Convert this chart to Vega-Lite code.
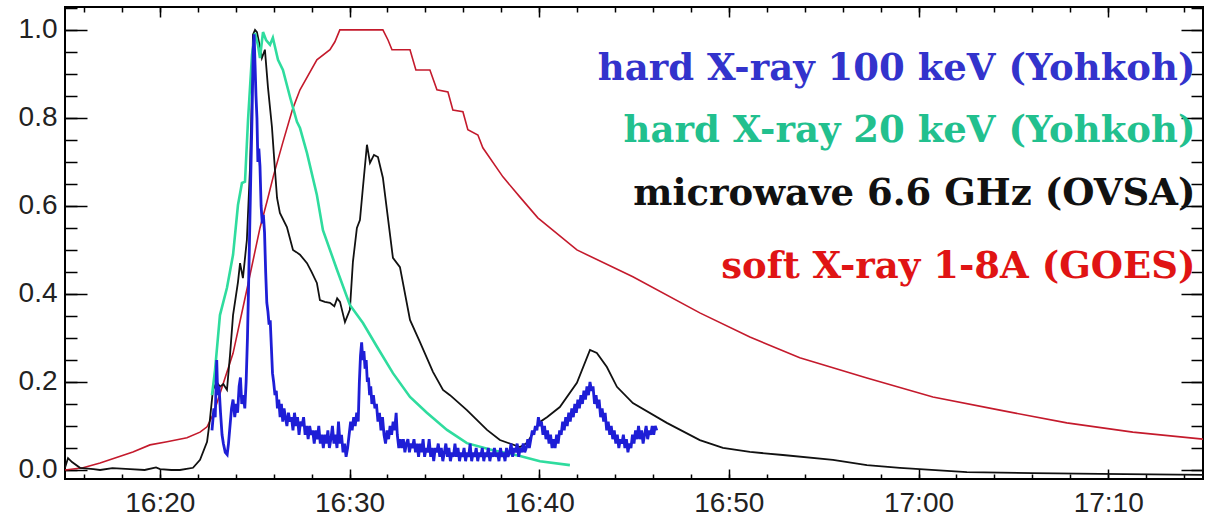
{
  "$schema": "https://vega.github.io/schema/vega-lite/v6.json",
  "width": 1138,
  "height": 472,
  "autosize": {"type": "none"},
  "padding": {"left": 65, "top": 7, "right": 6, "bottom": 41},
  "background": "white",
  "config": {
    "view": {"stroke": "black", "strokeWidth": 2},
    "axis": {"grid": false, "domain": false, "title": null, "tickColor": "black", "tickWidth": 1.5, "labelFont": "Liberation Sans", "labelFontSize": 28, "labelColor": "#222222"}
  },
  "datasets": {
    "goes": [
      {"t":15.0,"v":0.0},{"t":15.95,"v":0.005},{"t":16.85,"v":0.016},{"t":18.58,"v":0.041},{"t":19.48,"v":0.057},{"t":20.38,"v":0.064},{"t":21.43,"v":0.073},{"t":22.12,"v":0.086},{"t":22.49,"v":0.098},{"t":22.8,"v":0.125},{"t":23.01,"v":0.152},{"t":23.86,"v":0.265},{"t":24.59,"v":0.41},{"t":25.28,"v":0.55},{"t":25.65,"v":0.61},{"t":26.0,"v":0.67},{"t":26.49,"v":0.745},{"t":27.0,"v":0.82},{"t":27.39,"v":0.864},{"t":28.28,"v":0.932},{"t":28.97,"v":0.955},{"t":29.23,"v":0.973},{"t":29.49,"v":1.0},{"t":31.76,"v":1.0},{"t":32.03,"v":0.977},{"t":32.24,"v":0.955},{"t":33.19,"v":0.955},{"t":33.5,"v":0.909},{"t":34.24,"v":0.909},{"t":34.61,"v":0.864},{"t":35.19,"v":0.859},{"t":35.45,"v":0.818},{"t":35.98,"v":0.814},{"t":36.24,"v":0.773},{"t":36.77,"v":0.761},{"t":37.03,"v":0.732},{"t":38.09,"v":0.666},{"t":38.99,"v":0.62},{"t":39.93,"v":0.573},{"t":41.99,"v":0.5},{"t":44.94,"v":0.439},{"t":48.47,"v":0.357},{"t":51.11,"v":0.302},{"t":53.74,"v":0.255},{"t":57.28,"v":0.209},{"t":60.76,"v":0.166},{"t":64.29,"v":0.136},{"t":67.82,"v":0.107},{"t":71.3,"v":0.086},{"t":75.0,"v":0.07}
    ],
    "ovsa": [
      {"t":15.0,"v":0.005},{"t":15.16,"v":0.027},{"t":15.37,"v":0.018},{"t":15.79,"v":0.005},{"t":16.5,"v":0.002},{"t":16.85,"v":0.0},{"t":17.5,"v":0.004},{"t":18.43,"v":0.002},{"t":19.2,"v":0.0},{"t":19.8,"v":0.006},{"t":20.01,"v":0.002},{"t":20.6,"v":0.0},{"t":21.06,"v":0.0},{"t":21.75,"v":0.005},{"t":22.12,"v":0.023},{"t":22.49,"v":0.064},{"t":22.64,"v":0.114},{"t":22.8,"v":0.182},{"t":23.0,"v":0.2},{"t":23.17,"v":0.189},{"t":23.35,"v":0.195},{"t":23.54,"v":0.182},{"t":23.7,"v":0.261},{"t":23.86,"v":0.352},{"t":24.12,"v":0.427},{"t":24.23,"v":0.47},{"t":24.38,"v":0.436},{"t":24.59,"v":0.523},{"t":24.75,"v":0.682},{"t":24.86,"v":0.864},{"t":24.91,"v":0.989},{"t":25.02,"v":1.0},{"t":25.12,"v":0.995},{"t":25.28,"v":0.961},{"t":25.38,"v":0.936},{"t":25.54,"v":0.955},{"t":25.7,"v":0.87},{"t":25.91,"v":0.78},{"t":26.07,"v":0.682},{"t":26.18,"v":0.618},{"t":26.33,"v":0.584},{"t":26.7,"v":0.552},{"t":27.02,"v":0.5},{"t":27.2,"v":0.495},{"t":27.39,"v":0.489},{"t":27.76,"v":0.47},{"t":28.0,"v":0.45},{"t":28.28,"v":0.425},{"t":28.44,"v":0.386},{"t":28.7,"v":0.382},{"t":28.97,"v":0.38},{"t":29.2,"v":0.372},{"t":29.35,"v":0.39},{"t":29.5,"v":0.382},{"t":29.76,"v":0.336},{"t":30.02,"v":0.364},{"t":30.18,"v":0.473},{"t":30.39,"v":0.55},{"t":30.55,"v":0.568},{"t":30.71,"v":0.643},{"t":30.92,"v":0.739},{"t":31.08,"v":0.698},{"t":31.29,"v":0.716},{"t":31.5,"v":0.711},{"t":31.76,"v":0.664},{"t":32.29,"v":0.482},{"t":32.66,"v":0.461},{"t":33.19,"v":0.341},{"t":33.71,"v":0.291},{"t":34.4,"v":0.223},{"t":34.93,"v":0.182},{"t":35.3,"v":0.17},{"t":36.19,"v":0.136},{"t":37.25,"v":0.091},{"t":37.93,"v":0.068},{"t":38.99,"v":0.052},{"t":39.35,"v":0.061},{"t":40.04,"v":0.109},{"t":40.41,"v":0.12},{"t":41.09,"v":0.143},{"t":41.99,"v":0.198},{"t":42.68,"v":0.273},{"t":43.04,"v":0.266},{"t":43.57,"v":0.234},{"t":44.1,"v":0.189},{"t":44.94,"v":0.152},{"t":46.73,"v":0.107},{"t":48.47,"v":0.068},{"t":49.69,"v":0.05},{"t":51.11,"v":0.041},{"t":52.85,"v":0.034},{"t":55.49,"v":0.023},{"t":57.28,"v":0.011},{"t":59.02,"v":0.005},{"t":62.55,"v":-0.005},{"t":66.03,"v":-0.007},{"t":69.56,"v":-0.009},{"t":75.0,"v":-0.011}
    ],
    "hxr20": [
      {"t":22.75,"v":0.17},{"t":22.91,"v":0.227},{"t":23.17,"v":0.352},{"t":23.54,"v":0.414},{"t":23.86,"v":0.489},{"t":24.12,"v":0.602},{"t":24.33,"v":0.652},{"t":24.49,"v":0.655},{"t":24.65,"v":0.795},{"t":24.86,"v":0.943},{"t":25.02,"v":0.993},{"t":25.17,"v":0.966},{"t":25.28,"v":0.936},{"t":25.44,"v":0.995},{"t":25.6,"v":0.977},{"t":25.81,"v":0.966},{"t":25.96,"v":0.982},{"t":26.23,"v":0.932},{"t":26.49,"v":0.909},{"t":26.86,"v":0.848},{"t":27.23,"v":0.791},{"t":27.39,"v":0.777},{"t":27.76,"v":0.72},{"t":28.28,"v":0.625},{"t":28.6,"v":0.545},{"t":29.34,"v":0.455},{"t":30.02,"v":0.375},{"t":30.71,"v":0.334},{"t":31.45,"v":0.28},{"t":32.29,"v":0.22},{"t":33.19,"v":0.166},{"t":34.08,"v":0.13},{"t":35.14,"v":0.091},{"t":36.19,"v":0.061},{"t":37.56,"v":0.045},{"t":38.99,"v":0.032},{"t":40.04,"v":0.02},{"t":41.62,"v":0.011}
    ],
    "hxr100": [
      {"t":22.75,"v":0.09},{"t":22.85,"v":0.14},{"t":22.92,"v":0.12},{"t":23.0,"v":0.25},{"t":23.05,"v":0.17},{"t":23.12,"v":0.19},{"t":23.2,"v":0.13},{"t":23.28,"v":0.08},{"t":23.35,"v":0.06},{"t":23.45,"v":0.04},{"t":23.55,"v":0.035},{"t":23.62,"v":0.06},{"t":23.7,"v":0.1},{"t":23.78,"v":0.14},{"t":23.86,"v":0.16},{"t":23.95,"v":0.12},{"t":24.03,"v":0.15},{"t":24.1,"v":0.13},{"t":24.18,"v":0.19},{"t":24.25,"v":0.21},{"t":24.32,"v":0.15},{"t":24.4,"v":0.17},{"t":24.48,"v":0.14},{"t":24.55,"v":0.2},{"t":24.62,"v":0.3},{"t":24.68,"v":0.42},{"t":24.74,"v":0.55},{"t":24.8,"v":0.68},{"t":24.86,"v":0.8},{"t":24.92,"v":0.95},{"t":24.97,"v":0.99},{"t":25.02,"v":0.92},{"t":25.07,"v":0.85},{"t":25.12,"v":0.8},{"t":25.17,"v":0.7},{"t":25.22,"v":0.73},{"t":25.28,"v":0.69},{"t":25.34,"v":0.6},{"t":25.4,"v":0.56},{"t":25.46,"v":0.58},{"t":25.52,"v":0.54},{"t":25.58,"v":0.45},{"t":25.64,"v":0.38},{"t":25.7,"v":0.36},{"t":25.76,"v":0.33},{"t":25.82,"v":0.34},{"t":25.88,"v":0.28},{"t":25.94,"v":0.22},{"t":26.0,"v":0.2},{"t":26.07,"v":0.17},{"t":26.14,"v":0.18},{"t":26.2,"v":0.14},{"t":26.27,"v":0.16},{"t":26.34,"v":0.12},{"t":26.41,"v":0.15},{"t":26.48,"v":0.11},{"t":26.55,"v":0.14},{"t":26.62,"v":0.12},{"t":26.7,"v":0.1},{"t":26.78,"v":0.13},{"t":26.86,"v":0.11},{"t":26.94,"v":0.12},{"t":27.02,"v":0.09},{"t":27.1,"v":0.13},{"t":27.18,"v":0.1},{"t":27.26,"v":0.12},{"t":27.34,"v":0.08},{"t":27.42,"v":0.11},{"t":27.5,"v":0.1},{"t":27.58,"v":0.12},{"t":27.66,"v":0.08},{"t":27.74,"v":0.1},{"t":27.82,"v":0.07},{"t":27.9,"v":0.1},{"t":27.98,"v":0.08},{"t":28.06,"v":0.09},{"t":28.14,"v":0.06},{"t":28.22,"v":0.09},{"t":28.3,"v":0.07},{"t":28.38,"v":0.1},{"t":28.46,"v":0.06},{"t":28.54,"v":0.08},{"t":28.62,"v":0.05},{"t":28.7,"v":0.08},{"t":28.78,"v":0.06},{"t":28.86,"v":0.09},{"t":28.94,"v":0.05},{"t":29.02,"v":0.07},{"t":29.1,"v":0.1},{"t":29.18,"v":0.06},{"t":29.26,"v":0.08},{"t":29.34,"v":0.05},{"t":29.42,"v":0.11},{"t":29.5,"v":0.06},{"t":29.58,"v":0.08},{"t":29.66,"v":0.04},{"t":29.74,"v":0.06},{"t":29.82,"v":0.03},{"t":29.9,"v":0.05},{"t":29.98,"v":0.08},{"t":30.06,"v":0.11},{"t":30.14,"v":0.09},{"t":30.22,"v":0.12},{"t":30.3,"v":0.1},{"t":30.38,"v":0.13},{"t":30.46,"v":0.11},{"t":30.52,"v":0.2},{"t":30.58,"v":0.26},{"t":30.64,"v":0.29},{"t":30.7,"v":0.25},{"t":30.76,"v":0.27},{"t":30.82,"v":0.23},{"t":30.88,"v":0.25},{"t":30.94,"v":0.2},{"t":31.0,"v":0.21},{"t":31.06,"v":0.17},{"t":31.12,"v":0.19},{"t":31.18,"v":0.15},{"t":31.26,"v":0.17},{"t":31.34,"v":0.14},{"t":31.42,"v":0.15},{"t":31.5,"v":0.11},{"t":31.58,"v":0.13},{"t":31.66,"v":0.09},{"t":31.74,"v":0.12},{"t":31.82,"v":0.08},{"t":31.9,"v":0.06},{"t":31.98,"v":0.09},{"t":32.06,"v":0.07},{"t":32.14,"v":0.1},{"t":32.22,"v":0.08},{"t":32.3,"v":0.11},{"t":32.38,"v":0.09},{"t":32.46,"v":0.13},{"t":32.52,"v":0.08},{"t":32.6,"v":0.05},{"t":32.68,"v":0.07},{"t":32.76,"v":0.05},{"t":32.84,"v":0.07},{"t":32.92,"v":0.04},{"t":33.0,"v":0.06},{"t":33.08,"v":0.07},{"t":33.16,"v":0.04},{"t":33.24,"v":0.06},{"t":33.32,"v":0.05},{"t":33.4,"v":0.07},{"t":33.48,"v":0.04},{"t":33.56,"v":0.06},{"t":33.64,"v":0.03},{"t":33.72,"v":0.06},{"t":33.8,"v":0.04},{"t":33.88,"v":0.07},{"t":33.96,"v":0.03},{"t":34.04,"v":0.05},{"t":34.12,"v":0.04},{"t":34.2,"v":0.07},{"t":34.28,"v":0.03},{"t":34.36,"v":0.05},{"t":34.44,"v":0.02},{"t":34.52,"v":0.05},{"t":34.6,"v":0.04},{"t":34.68,"v":0.06},{"t":34.76,"v":0.03},{"t":34.84,"v":0.05},{"t":34.92,"v":0.02},{"t":35.0,"v":0.04},{"t":35.08,"v":0.06},{"t":35.16,"v":0.03},{"t":35.24,"v":0.05},{"t":35.32,"v":0.02},{"t":35.4,"v":0.04},{"t":35.48,"v":0.03},{"t":35.56,"v":0.06},{"t":35.64,"v":0.03},{"t":35.72,"v":0.05},{"t":35.8,"v":0.02},{"t":35.88,"v":0.04},{"t":35.96,"v":0.03},{"t":36.04,"v":0.05},{"t":36.12,"v":0.02},{"t":36.2,"v":0.04},{"t":36.28,"v":0.03},{"t":36.36,"v":0.06},{"t":36.44,"v":0.02},{"t":36.52,"v":0.04},{"t":36.6,"v":0.03},{"t":36.68,"v":0.05},{"t":36.76,"v":0.02},{"t":36.84,"v":0.04},{"t":36.92,"v":0.03},{"t":37.0,"v":0.05},{"t":37.08,"v":0.02},{"t":37.16,"v":0.04},{"t":37.24,"v":0.03},{"t":37.32,"v":0.05},{"t":37.4,"v":0.02},{"t":37.48,"v":0.04},{"t":37.56,"v":0.03},{"t":37.64,"v":0.05},{"t":37.72,"v":0.03},{"t":37.8,"v":0.04},{"t":37.88,"v":0.02},{"t":37.96,"v":0.05},{"t":38.04,"v":0.03},{"t":38.12,"v":0.04},{"t":38.2,"v":0.02},{"t":38.28,"v":0.05},{"t":38.36,"v":0.03},{"t":38.44,"v":0.04},{"t":38.52,"v":0.06},{"t":38.6,"v":0.03},{"t":38.68,"v":0.05},{"t":38.76,"v":0.04},{"t":38.84,"v":0.06},{"t":38.92,"v":0.03},{"t":39.0,"v":0.05},{"t":39.08,"v":0.04},{"t":39.16,"v":0.06},{"t":39.24,"v":0.04},{"t":39.32,"v":0.05},{"t":39.4,"v":0.07},{"t":39.48,"v":0.05},{"t":39.56,"v":0.07},{"t":39.64,"v":0.09},{"t":39.72,"v":0.08},{"t":39.8,"v":0.1},{"t":39.88,"v":0.09},{"t":39.96,"v":0.12},{"t":40.04,"v":0.1},{"t":40.12,"v":0.11},{"t":40.2,"v":0.08},{"t":40.28,"v":0.1},{"t":40.36,"v":0.07},{"t":40.44,"v":0.09},{"t":40.52,"v":0.06},{"t":40.6,"v":0.08},{"t":40.68,"v":0.05},{"t":40.76,"v":0.07},{"t":40.84,"v":0.05},{"t":40.92,"v":0.08},{"t":41.0,"v":0.06},{"t":41.08,"v":0.09},{"t":41.16,"v":0.08},{"t":41.24,"v":0.11},{"t":41.32,"v":0.09},{"t":41.4,"v":0.12},{"t":41.48,"v":0.1},{"t":41.56,"v":0.13},{"t":41.64,"v":0.11},{"t":41.72,"v":0.14},{"t":41.8,"v":0.12},{"t":41.88,"v":0.15},{"t":41.96,"v":0.13},{"t":42.04,"v":0.16},{"t":42.12,"v":0.14},{"t":42.2,"v":0.17},{"t":42.28,"v":0.15},{"t":42.36,"v":0.18},{"t":42.44,"v":0.16},{"t":42.52,"v":0.19},{"t":42.6,"v":0.17},{"t":42.68,"v":0.2},{"t":42.76,"v":0.18},{"t":42.84,"v":0.19},{"t":42.92,"v":0.15},{"t":43.0,"v":0.17},{"t":43.08,"v":0.14},{"t":43.16,"v":0.16},{"t":43.24,"v":0.12},{"t":43.32,"v":0.14},{"t":43.4,"v":0.11},{"t":43.48,"v":0.13},{"t":43.56,"v":0.09},{"t":43.64,"v":0.11},{"t":43.72,"v":0.08},{"t":43.8,"v":0.1},{"t":43.88,"v":0.07},{"t":43.96,"v":0.09},{"t":44.04,"v":0.06},{"t":44.12,"v":0.08},{"t":44.2,"v":0.05},{"t":44.28,"v":0.07},{"t":44.36,"v":0.06},{"t":44.44,"v":0.08},{"t":44.52,"v":0.05},{"t":44.6,"v":0.07},{"t":44.68,"v":0.04},{"t":44.76,"v":0.06},{"t":44.84,"v":0.05},{"t":44.92,"v":0.08},{"t":45.0,"v":0.06},{"t":45.08,"v":0.09},{"t":45.16,"v":0.07},{"t":45.24,"v":0.1},{"t":45.32,"v":0.07},{"t":45.4,"v":0.09},{"t":45.48,"v":0.06},{"t":45.56,"v":0.08},{"t":45.64,"v":0.1},{"t":45.72,"v":0.07},{"t":45.8,"v":0.09},{"t":45.88,"v":0.08},{"t":45.96,"v":0.1},{"t":46.04,"v":0.08},{"t":46.12,"v":0.1},{"t":46.2,"v":0.09}
    ],
    "labels": [
      {"t":74.6,"v":0.886,"label":"hard X-ray 100 keV (Yohkoh)","series":"hxr100"},
      {"t":74.6,"v":0.745,"label":"hard X-ray 20 keV (Yohkoh)","series":"hxr20"},
      {"t":74.6,"v":0.602,"label":"microwave 6.6 GHz (OVSA)","series":"ovsa"},
      {"t":74.6,"v":0.436,"label":"soft X-ray 1-8A (GOES)","series":"goes"}
    ]
  },
  "resolve": {"axis": {"x": "independent", "y": "independent"}},
  "layer": [
    {
      "data": {"name": "goes"},
      "mark": {"type": "line", "color": "#c41a2c", "strokeWidth": 1.6, "clip": true},
      "encoding": {
        "x": {"field": "t", "type": "quantitative", "scale": {"domain": [15, 75], "nice": false, "zero": false},
              "axis": {"orient": "bottom", "values": [20, 30, 40, 50, 60, 70], "tickSize": -10, "labelPadding": 20, "labelBaseline": "top", "labelFontSize": 28,
                       "labelExpr": "(datum.value < 60 ? '16:' : '17:') + (datum.value % 60 == 0 ? '00' : datum.value % 60)"}},
        "y": {"field": "v", "type": "quantitative", "scale": {"domain": [-0.0205, 1.052], "nice": false, "zero": false},
              "axis": {"orient": "left", "values": [0, 0.2, 0.4, 0.6, 0.8, 1.0], "format": ".1f", "tickSize": -22, "labelPadding": 30, "labelBaseline": "middle"}}
      }
    },
    {
      "data": {"name": "ovsa"},
      "mark": {"type": "line", "color": "#111111", "strokeWidth": 1.8, "clip": true},
      "encoding": {
        "x": {"field": "t", "type": "quantitative", "scale": {"domain": [15, 75], "nice": false, "zero": false},
              "axis": {"orient": "bottom", "values": [16,18,20,22,24,26,28,30,32,34,36,38,40,42,44,46,48,50,52,54,56,58,60,62,64,66,68,70,72,74], "tickSize": -5, "labels": false}},
        "y": {"field": "v", "type": "quantitative", "scale": {"domain": [-0.0205, 1.052], "nice": false, "zero": false},
              "axis": {"orient": "left", "values": [0,0.05,0.1,0.15,0.2,0.25,0.3,0.35,0.4,0.45,0.5,0.55,0.6,0.65,0.7,0.75,0.8,0.85,0.9,0.95,1.0,1.05], "tickSize": -12, "labels": false}}
      }
    },
    {
      "data": {"name": "hxr20"},
      "mark": {"type": "line", "color": "#2fdc9e", "strokeWidth": 2.6, "clip": true},
      "encoding": {
        "x": {"field": "t", "type": "quantitative", "scale": {"domain": [15, 75], "nice": false, "zero": false},
              "axis": {"orient": "top", "values": [20, 30, 40, 50, 60, 70], "tickSize": -10, "labels": false}},
        "y": {"field": "v", "type": "quantitative", "scale": {"domain": [-0.0205, 1.052], "nice": false, "zero": false},
              "axis": {"orient": "right", "values": [0, 0.2, 0.4, 0.6, 0.8, 1.0], "tickSize": -22, "labels": false}}
      }
    },
    {
      "data": {"name": "hxr100"},
      "mark": {"type": "line", "color": "#1e1ed6", "strokeWidth": 2.8, "clip": true},
      "encoding": {
        "x": {"field": "t", "type": "quantitative", "scale": {"domain": [15, 75], "nice": false, "zero": false},
              "axis": {"orient": "top", "values": [16,18,20,22,24,26,28,30,32,34,36,38,40,42,44,46,48,50,52,54,56,58,60,62,64,66,68,70,72,74], "tickSize": -5, "labels": false}},
        "y": {"field": "v", "type": "quantitative", "scale": {"domain": [-0.0205, 1.052], "nice": false, "zero": false},
              "axis": {"orient": "right", "values": [0,0.05,0.1,0.15,0.2,0.25,0.3,0.35,0.4,0.45,0.5,0.55,0.6,0.65,0.7,0.75,0.8,0.85,0.9,0.95,1.0,1.05], "tickSize": -12, "labels": false}}
      }
    },
    {
      "data": {"name": "labels"},
      "mark": {"type": "text", "align": "right", "baseline": "alphabetic", "font": "DejaVu Serif", "fontWeight": "bold", "fontSize": 37, "clip": true},
      "encoding": {
        "x": {"field": "t", "type": "quantitative", "scale": {"domain": [15, 75], "nice": false, "zero": false}, "axis": null},
        "y": {"field": "v", "type": "quantitative", "scale": {"domain": [-0.0205, 1.052], "nice": false, "zero": false}, "axis": null},
        "text": {"field": "label"},
        "color": {"field": "series", "type": "nominal", "legend": null,
                  "scale": {"domain": ["hxr100", "hxr20", "ovsa", "goes"], "range": ["#3333cc", "#22c08e", "#111111", "#e01414"]}}
      }
    }
  ]
}
